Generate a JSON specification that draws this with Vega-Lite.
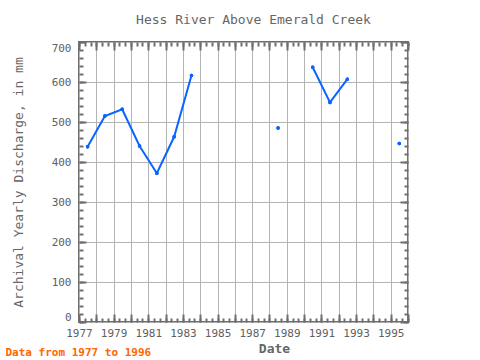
{
  "$schema": "https://vega.github.io/schema/vega-lite/v6.json",
  "width": 329,
  "height": 280,
  "autosize": {"type": "none"},
  "padding": {"left": 79, "top": 42, "right": 72, "bottom": 38},
  "background": "white",
  "title": {"text": "Hess River Above Emerald Creek", "font": "DejaVu Sans Mono", "fontSize": 13, "fontWeight": "normal", "color": "#666666", "anchor": "middle", "offset": 14, "dx": 10},
  "config": {
    "view": {"stroke": "#6e6e6e", "strokeWidth": 2},
    "axis": {"labelFont": "DejaVu Sans Mono", "titleFont": "DejaVu Sans Mono", "labelColor": "#606060", "titleColor": "#666666", "tickColor": "#6e6e6e", "domain": false}
  },
  "data": {"values": [
    {"date": "1977-07-01", "value": 438},
    {"date": "1978-07-01", "value": 515},
    {"date": "1979-07-01", "value": 532},
    {"date": "1980-07-01", "value": 440},
    {"date": "1981-07-01", "value": 372},
    {"date": "1982-07-01", "value": 463},
    {"date": "1983-07-01", "value": 616},
    {"date": "1984-07-01", "value": null},
    {"date": "1985-07-01", "value": null},
    {"date": "1986-07-01", "value": null},
    {"date": "1987-07-01", "value": null},
    {"date": "1988-07-01", "value": 485},
    {"date": "1989-07-01", "value": null},
    {"date": "1990-07-01", "value": 637},
    {"date": "1991-07-01", "value": 549},
    {"date": "1992-07-01", "value": 607},
    {"date": "1993-07-01", "value": null},
    {"date": "1994-07-01", "value": null},
    {"date": "1995-07-01", "value": 446}
  ]},
  "resolve": {"axis": {"x": "independent", "y": "independent"}},
  "layer": [
    {
      "mark": {"type": "line", "color": "#0a64ff", "strokeWidth": 2},
      "encoding": {
        "x": {"field": "date", "type": "temporal",
          "scale": {"domain": [{"year": 1977, "month": 1, "date": 1}, {"year": 1996, "month": 1, "date": 1}]},
          "axis": {"orient": "bottom", "values": [{"year": 1977}, {"year": 1978}, {"year": 1979}, {"year": 1980}, {"year": 1981}, {"year": 1982}, {"year": 1983}, {"year": 1984}, {"year": 1985}, {"year": 1986}, {"year": 1987}, {"year": 1988}, {"year": 1989}, {"year": 1990}, {"year": 1991}, {"year": 1992}, {"year": 1993}, {"year": 1994}, {"year": 1995}, {"year": 1996}],
            "format": "%Y", "labelExpr": "year(datum.value) % 2 == 1 && year(datum.value) < 1996 ? datum.label : ''",
            "labelOverlap": false, "labelFlush": false, "labelFontSize": 11, "labelPadding": 13,
            "grid": true, "gridColor": "#b4b4b4", "gridWidth": 1, "ticks": true, "tickSize": -8, "tickWidth": 2,
            "title": "Date", "titleFontSize": 13, "titleFontWeight": "bold", "titleX": 195, "titleY": 30, "titleBaseline": "alphabetic", "titleAlign": "center"}},
        "y": {"field": "value", "type": "quantitative",
          "scale": {"domain": [0, 700]},
          "axis": {"orient": "left", "values": [0, 100, 200, 300, 400, 500, 600, 700], "grid": true, "gridColor": "#b4b4b4", "gridWidth": 1,
            "ticks": true, "tickSize": -7, "tickWidth": 2, "labelFontSize": 11, "labelPadding": 15, "labelFlush": 4,
            "title": "Archival Yearly Discharge, in mm", "titleFontSize": 13, "titleFontWeight": "normal", "titlePadding": 26}}
      }
    },
    {
      "mark": {"type": "point", "filled": true, "color": "#0a64ff", "size": 12, "opacity": 1},
      "encoding": {
        "x": {"field": "date", "type": "temporal",
          "axis": {"orient": "top", "tickCount": {"interval": "month", "step": 4}, "labels": false, "grid": false, "ticks": true, "tickSize": -4, "tickWidth": 2, "title": null}},
        "y": {"field": "value", "type": "quantitative",
          "axis": {"orient": "right", "values": [0, 20, 40, 60, 80, 100, 120, 140, 160, 180, 200, 220, 240, 260, 280, 300, 320, 340, 360, 380, 400, 420, 440, 460, 480, 500, 520, 540, 560, 580, 600, 620, 640, 660, 680, 700], "labels": false, "grid": false, "ticks": true, "tickSize": -4, "tickWidth": 2, "title": null}}
      }
    },
    {
      "mark": {"type": "point", "filled": true, "color": "#0a64ff", "size": 12, "opacity": 1},
      "encoding": {
        "x": {"field": "date", "type": "temporal",
          "axis": {"orient": "bottom", "tickCount": {"interval": "month", "step": 4}, "labels": false, "grid": false, "ticks": true, "tickSize": -4, "tickWidth": 2,
            "title": "Data from 1977 to 1996", "titleColor": "#ff6600", "titleFontSize": 11, "titleFontWeight": "bold", "titleX": -74, "titleY": 33, "titleAlign": "left", "titleBaseline": "alphabetic"}},
        "y": {"field": "value", "type": "quantitative",
          "axis": {"orient": "left", "values": [0, 20, 40, 60, 80, 100, 120, 140, 160, 180, 200, 220, 240, 260, 280, 300, 320, 340, 360, 380, 400, 420, 440, 460, 480, 500, 520, 540, 560, 580, 600, 620, 640, 660, 680, 700], "labels": false, "grid": false, "ticks": true, "tickSize": -4, "tickWidth": 2, "title": null}}
      }
    },
    {
      "mark": {"type": "point", "filled": true, "color": "#0a64ff", "size": 12, "opacity": 1},
      "encoding": {
        "x": {"field": "date", "type": "temporal",
          "axis": {"orient": "top", "values": [{"year": 1977}, {"year": 1978}, {"year": 1979}, {"year": 1980}, {"year": 1981}, {"year": 1982}, {"year": 1983}, {"year": 1984}, {"year": 1985}, {"year": 1986}, {"year": 1987}, {"year": 1988}, {"year": 1989}, {"year": 1990}, {"year": 1991}, {"year": 1992}, {"year": 1993}, {"year": 1994}, {"year": 1995}, {"year": 1996}], "labels": false, "grid": false, "ticks": true, "tickSize": -8, "tickWidth": 2, "title": null}},
        "y": {"field": "value", "type": "quantitative",
          "axis": {"orient": "right", "values": [0, 100, 200, 300, 400, 500, 600, 700], "labels": false, "grid": false, "ticks": true, "tickSize": -8, "tickWidth": 2, "title": null}}
      }
    }
  ]
}
